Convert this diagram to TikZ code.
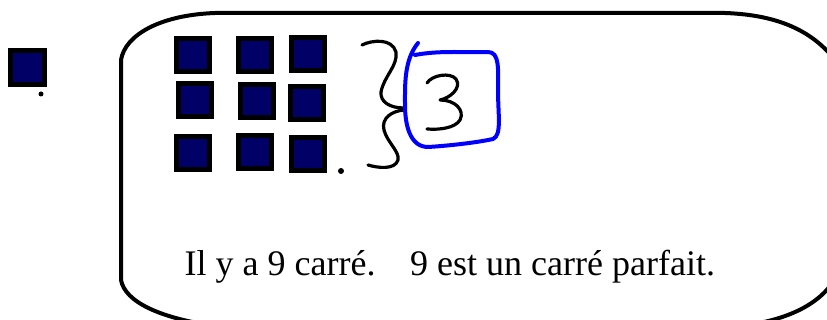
\documentclass[tikz,border=0pt]{standalone}
\usepackage{fontspec}
\setmainfont{Liberation Serif}
\definecolor{navy}{RGB}{0,0,102}
\definecolor{penblue}{RGB}{0,0,255}
\begin{document}
\begin{tikzpicture}[x=1pt,y=-1pt,
  sq/.style={draw=black,line width=5pt,fill=navy,inner sep=0pt,outer sep=0pt,minimum size=33pt},
  ink/.style={line width=3.2pt,line cap=round,line join=round}]
\useasboundingbox (0,0) rectangle (827,320);
\begin{scope}
\clip (0,0) rectangle (827,320);
\draw[line width=4pt] (121,60) .. controls (125,35) and (160,15) .. (215,13)
  -- (725,13) .. controls (780,15) and (818,32) .. (842,70)
  -- (842,262) .. controls (832,300) and (792,320) .. (740,326)
  -- (215,326) .. controls (160,318) and (125,302) .. (121,280) -- cycle;
\end{scope}
% lone square
\node[sq,minimum size=34pt] (s0) at (27.5,68) {};
\fill (41,94) circle (2.5);
% grid
\node[sq] (s1) at (193,55) {};
\node[sq] (s2) at (255,55) {};
\node[sq] (s3) at (308,54) {};
\node[sq] (s4) at (195,100) {};
\node[sq] (s5) at (256.5,101) {};
\node[sq] (s6) at (306.5,103) {};
\node[sq] (s7) at (193,153) {};
\node[sq] (s8) at (255,152.5) {};
\node[sq] (s9) at (308,154.5) {};
\fill (341,171) circle (3);
% brace
\draw[ink] (362,45) .. controls (372,40) and (392,38) .. (396,52)
  .. controls (398,66) and (384,76) .. (381,92)
  .. controls (380,102) and (390,108) .. (404,108);
\draw[ink] (404,110) .. controls (392,111) and (381,118) .. (384,130)
  .. controls (387,142) and (400,152) .. (398,160)
  .. controls (395,170) and (378,168) .. (368,165);
% blue box
\draw[ink,penblue,line width=4pt] (415,55) .. controls (440,50) and (470,53) .. (488,52)
  .. controls (500,52) and (498,70) .. (498,90)
  .. controls (498,115) and (502,135) .. (493,139)
  .. controls (475,143) and (445,146) .. (428,147)
  .. controls (410,147) and (405,125) .. (405,105)
  .. controls (405,85) and (404,60) .. (418,43);
% 3
\draw[ink] (427,83) .. controls (432,75) and (450,72) .. (456,79)
  .. controls (462,88) and (450,98) .. (440,100)
  .. controls (455,100) and (465,110) .. (460,120)
  .. controls (455,128) and (440,130) .. (427,129);
% text
\node[anchor=base west,inner sep=0pt,font=\fontsize{36}{40}\selectfont] (t) at (184.5,276)
  {Il y a 9 carré.\hspace{0.96em}9 est un carré parfait.};
\end{tikzpicture}
\end{document}
